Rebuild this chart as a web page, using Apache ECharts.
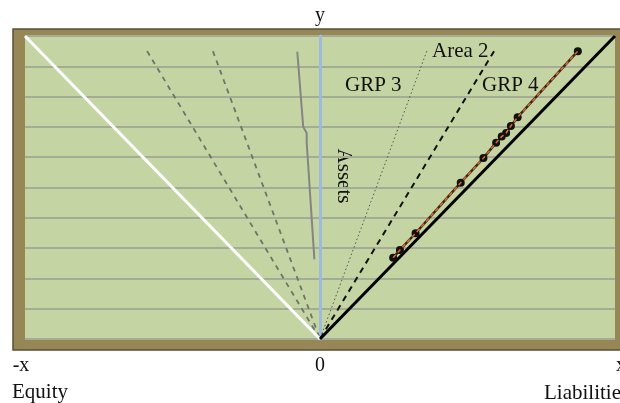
<!DOCTYPE html>
<html>
<head>
<meta charset="utf-8">
<script src="https://cdn.jsdelivr.net/npm/echarts@6/dist/echarts.min.js"></script>
<style>
  html, body { margin: 0; padding: 0; background: #fff; }
  #chart { width: 620px; height: 403px; }
</style>
</head>
<body>
<div id="chart"></div>
<script>
// tick labels on the x axis
var xTicks = [-10, 0, 10];
var xTickLabels = ["-x", "0", "x"];

// boundary lines, all meeting at the origin
var equityLine = [[-10, 10], [0, 0]];
var liabLine = [[0, 0], [10, 10]];
var grayDash1 = [[-5.86, 9.5], [0, 0]];
var grayDash2 = [[-3.63, 9.5], [0, 0]];
var area2Dotted = [[3.62, 9.5], [0, 0]];
var grp4Dashed = [[5.9, 9.5], [0, 0]];

// gray trace left of the y axis
var assetTrace = [[-0.77, 9.48], [-0.57, 7.01], [-0.45, 6.79], [-0.45, 6.47], [-0.19, 2.63]];

// observed points
var obsX = [2.48, 2.71, 3.24, 4.77, 5.54, 5.97, 6.16, 6.31, 6.47, 6.7, 8.74];
var obsY = [2.68, 2.94, 3.49, 5.16, 5.97, 6.48, 6.68, 6.8, 7.03, 7.32, 9.5];

var serif = "Liberation Serif";
var chart = echarts.init(document.getElementById("chart"));

var obs = obsX.map(function (x, i) { return [x, obsY[i]]; });

function plainLine(data, color, width, type) {
  return {
    type: "line",
    data: data,
    symbol: "none",
    silent: true,
    lineStyle: { color: color, width: width, type: type || "solid" }
  };
}

var option = {
  animation: false,
  backgroundColor: "#fff",
  grid: {
    left: 25,
    right: 5,
    top: 36,
    bottom: 64,
    outerBoundsMode: "none",
    containLabel: false,
    show: true,
    backgroundColor: "#c5d4a3",
    borderWidth: 0
  },
  xAxis: {
    type: "value",
    min: -10,
    max: 10,
    interval: 10,
    axisLine: { show: false },
    axisTick: { show: false },
    splitLine: { show: false },
    axisLabel: {
      margin: 17,
      fontFamily: serif,
      fontSize: 20,
      color: "#111",
      formatter: function (v) {
        var i = xTicks.indexOf(v);
        if (i === 0) return "{l|" + xTickLabels[i] + "}";
        if (i === 2) return "{r|" + xTickLabels[i] + "}";
        return i >= 0 ? xTickLabels[i] : "";
      },
      rich: {
        l: { fontFamily: serif, fontSize: 20, color: "#111", padding: [0, 8, 0, 0] },
        r: { fontFamily: serif, fontSize: 20, color: "#111", padding: [0, 0, 0, 12] }
      }
    }
  },
  yAxis: {
    type: "value",
    min: 0,
    max: 10,
    interval: 1,
    name: "y",
    nameLocation: "end",
    nameGap: 10,
    nameTextStyle: { fontFamily: serif, fontSize: 20, color: "#111" },
    axisLine: { show: true, onZero: true, lineStyle: { color: "#9dbbdc", width: 3 } },
    axisTick: { show: false },
    axisLabel: { show: false },
    splitLine: { lineStyle: { color: "#a4ac95", width: 2 } }
  },
  graphic: [
    {
      type: "rect",
      z: -10,
      silent: true,
      shape: { x: 13, y: 29, width: 620, height: 321 },
      style: { fill: "#978756", stroke: "#5a5034", lineWidth: 1.5 }
    },
    { type: "text", left: 432, top: 41, style: { text: "Area 2", font: "21px " + serif, fill: "#111" } },
    { type: "text", left: 345, top: 75, style: { text: "GRP 3", font: "21px " + serif, fill: "#111" } },
    { type: "text", left: 482, top: 75, style: { text: "GRP 4", font: "21px " + serif, fill: "#111" } },
    {
      type: "text",
      x: 344,
      y: 176,
      rotation: -Math.PI / 2,
      style: { text: "Assets", font: "21px " + serif, fill: "#111", align: "center", verticalAlign: "middle" }
    },
    { type: "text", left: 12, top: 382, style: { text: "Equity", font: "21px " + serif, fill: "#111" } },
    {
      type: "text",
      x: 621,
      y: 393,
      style: { text: "Liabilitie", font: "21px " + serif, fill: "#111", align: "right", verticalAlign: "middle" }
    }
  ],
  series: [
    plainLine(grayDash1, "#6f736b", 1.8, [5, 5]),
    plainLine(grayDash2, "#6f736b", 1.8, [5, 5]),
    plainLine(area2Dotted, "#555", 1, [1.5, 2.5]),
    plainLine(grp4Dashed, "#111", 2, [6, 5]),
    plainLine(assetTrace, "#858585", 2),
    plainLine(equityLine, "#ffffff", 3),
    plainLine(liabLine, "#000000", 3),
    {
      type: "line",
      data: obs,
      symbol: "circle",
      symbolSize: 8,
      itemStyle: { color: "#111" },
      lineStyle: { color: "#3a2a1c", width: 2.5 },
      z: 5
    },
    {
      type: "line",
      data: obs,
      symbol: "none",
      lineStyle: { color: "#e2692d", width: 1.5, type: [4, 3] },
      z: 6
    }
  ]
};

chart.setOption(option);
</script>
</body>
</html>
